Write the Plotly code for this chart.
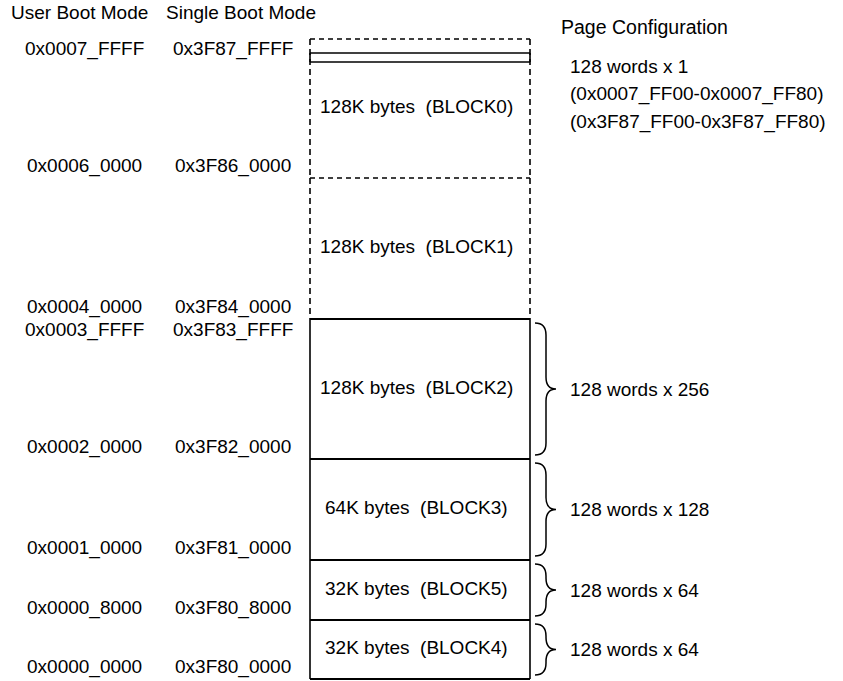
import plotly.graph_objects as go

# ---------------- data ----------------
block_names = ["BLOCK0", "BLOCK1", "BLOCK2", "BLOCK3", "BLOCK5", "BLOCK4"]
block_sizes = ["128K", "128K", "128K", "64K", "32K", "32K"]
block_dashed = [True, True, False, False, False, False]
bottom_user = ["0x0006_0000", "0x0004_0000", "0x0002_0000", "0x0001_0000", "0x0000_8000", "0x0000_0000"]
bottom_single = ["0x3F86_0000", "0x3F84_0000", "0x3F82_0000", "0x3F81_0000", "0x3F80_8000", "0x3F80_0000"]
top_user = ["0x0007_FFFF", "0x0003_FFFF"]
top_single = ["0x3F87_FFFF", "0x3F83_FFFF"]
page_cfg = [None, None, "128 words x 256", "128 words x 128", "128 words x 64", "128 words x 64"]
top_page_cfg = ["128 words x 1", "(0x0007_FF00-0x0007_FF80)", "(0x3F87_FF00-0x3F87_FF80)"]
headers = ["User Boot Mode", "Single Boot Mode", "Page Configuration"]

# ---------------- layout (reference pixel units) ----------------
W, H = 843, 681
block_px = [139, 141, 140, 101, 60, 59]
TOP = 39
XL, XR = 310, 530
FONT = dict(family="Liberation Sans, Arial, sans-serif", size=19, color="black")
DASH = "5px,4px"
VDASH = "6px,4px"

bounds = [TOP]
for h in block_px:
    bounds.append(bounds[-1] + h)

fig = go.Figure()
shapes = []
annots = []


def line(x0, y0, x1, y1, dash=None, width=1.6):
    shapes.append(dict(type="line", xref="x", yref="y", x0=x0, y0=y0, x1=x1, y1=y1,
                       line=dict(color="black", width=width, dash=dash if dash else "solid")))


def text(x, y, s, anchor="center", size=None):
    f = dict(FONT)
    if size:
        f["size"] = size
    annots.append(dict(x=x, y=y, xref="x", yref="y", text=s, showarrow=False,
                       xanchor=anchor, yanchor="middle", font=f))


for i, name in enumerate(block_names):
    y0, y1 = bounds[i], bounds[i + 1]
    d = DASH if block_dashed[i] else None
    vd = VDASH if block_dashed[i] else None
    line(XL, y0, XR, y0, d, 1.6 if d else 2)
    line(XL, y0, XL, y1, vd, 1.6)
    line(XR, y0, XR, y1, vd, 1.6)
    text(416, (y0 + y1) / 2 - 2, f"{block_sizes[i]} bytes&nbsp;&nbsp;({name})")
    text(84, y1 - 12, bottom_user[i])
    text(233, y1 - 12, bottom_single[i])
    if page_cfg[i]:
        # curly brace
        a, b = y0 + 4, y1 - 4
        m = (y0 + y1) / 2
        x0, xm, xt = 535, 546, 556
        r = min(12, (b - a) / 4)
        path = (f"M {x0},{a} Q {xm},{a} {xm},{a + r} L {xm},{m - r} "
                f"Q {xm},{m} {xt},{m} Q {xm},{m} {xm},{m + r} "
                f"L {xm},{b - r} Q {xm},{b} {x0},{b}")
        shapes.append(dict(type="path", xref="x", yref="y", path=path,
                           line=dict(color="black", width=1.5)))
        text(568, m, page_cfg[i], anchor="left")

line(XL, bounds[-1], XR, bounds[-1], None, 2)

# thin page at top of BLOCK0
line(XL, 53, XR, 53, None, 1.6)
line(XL, 62, XR, 62, None, 1.6)
line(XL, 53, XL, 62, None, 1.6)
line(XR, 53, XR, 62, None, 1.6)

# top labels
text(84, 49, top_user[0])
text(233, 49, top_single[0])
text(84, bounds[2] + 11, top_user[1])
text(233, bounds[2] + 11, top_single[1])

# headers
text(9, 12, headers[0], anchor="left")
text(164, 12, headers[1], anchor="left")
text(559, 27, headers[2], anchor="left", size=19.5)

for j, s in enumerate(top_page_cfg):
    text(568, 66 + j * 28, s, anchor="left")

fig.update_layout(
    width=W, height=H, margin=dict(l=0, r=0, t=0, b=0),
    paper_bgcolor="white", plot_bgcolor="white",
    xaxis=dict(range=[0, W], visible=False, fixedrange=True),
    yaxis=dict(range=[H, 0], visible=False, fixedrange=True),
    shapes=shapes, annotations=annots, showlegend=False,
)
fig.write_html("out.html", config={"displayModeBar": False},
               post_script="document.body.style.margin='0';document.body.style.overflow='hidden';")
